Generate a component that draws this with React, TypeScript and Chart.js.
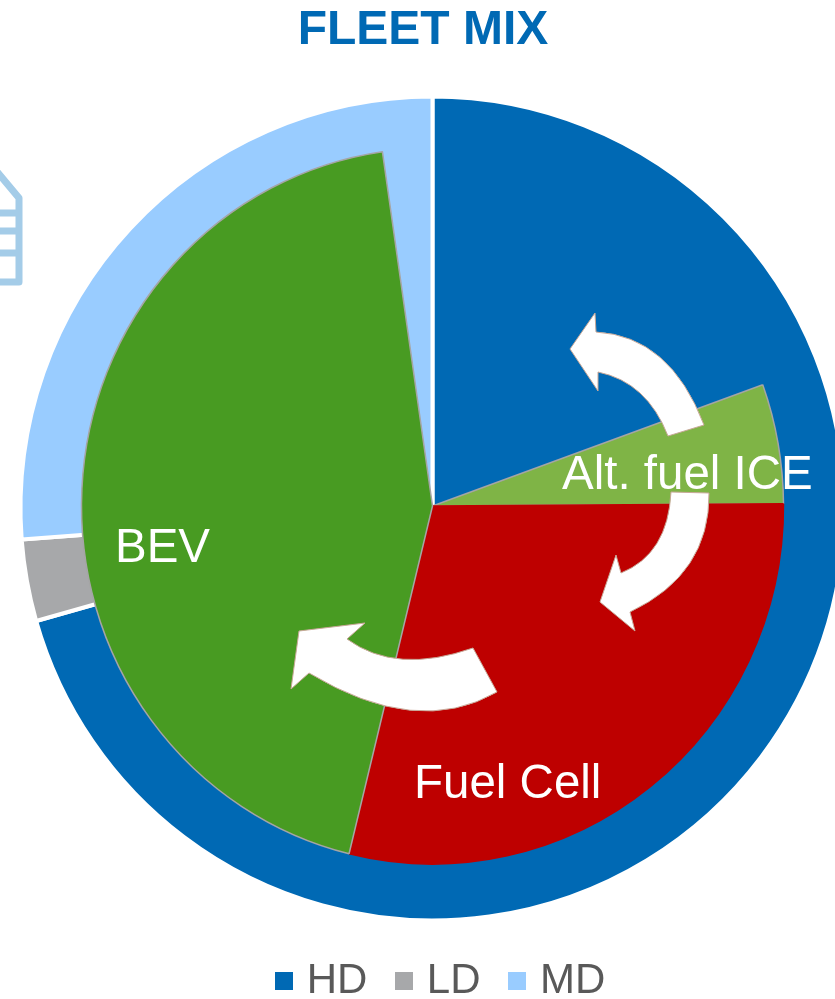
import React, { useEffect, useRef } from "react";
import { Chart, registerables } from "chart.js";

Chart.register(...registerables);

// Outer pie: share of fleet by vehicle class
const fleetClasses = ["HD", "LD", "MD"];
const fleetShares = [70.6, 3.2, 26.2];
const fleetColors = ["#0069B4", "#A7A8AA", "#99CCFF"];

// Inner pie: powertrain mix. The empty slices leave the outer pie visible.
const powertrainNames = ["", "Alt. fuel ICE", "Fuel Cell", "BEV", ""];
const powertrainShares = [19.5, 5.4, 28.92, 43.9, 2.28];
const powertrainColors = ["rgba(0,0,0,0)", "#7FB446", "#BE0000", "#489B22", "rgba(0,0,0,0)"];
const powertrainBorders = ["rgba(0,0,0,0)", "#A5A5A5", "#BE0000", "#A5A5A5", "rgba(0,0,0,0)"];

const FONT = "'Liberation Sans', Arial, sans-serif";
const PAGE_W = 880; // wider than the window: the pie is cropped at the right
const PAGE_H = 999;
const OUTER_R = 412;
const INNER_R = 351;
const RING_WEIGHT = 1000;

// Callouts drawn over the pie
const sliceLabels: [string, number, number][] = [
  [powertrainNames[1], 562, 489],
  [powertrainNames[2], 414, 798],
  [powertrainNames[3], 115, 562],
];
// [start, ...[cx, cy, x, y] quadratic or [x, y] line]
const arrows: number[][][] = [
  [[570, 349], [595, 313], [596, 332], [670, 336, 704, 425], [668, 436], [647, 382, 598, 372], [598, 391]],
  [[671, 492], [709, 493], [710, 574, 630, 612], [635, 631], [600, 602], [616, 555], [621, 573], [668, 554, 671, 492]],
  [[299, 631], [365, 623], [347, 639], [396, 675, 473, 648], [497, 692], [417, 738, 309, 673], [291, 689]],
];

function swatch(color: string) {
  const c = document.createElement("canvas");
  c.width = 18;
  c.height = 18;
  const g = c.getContext("2d")!;
  g.fillStyle = color;
  g.fillRect(0, 0, 18, 18);
  return c;
}

const overlay = {
  id: "fleetOverlay",
  afterLayout(chart: any) {
    const area = { left: 22.5, right: 842.5, top: 98.5, bottom: 918.5 };
    chart.chartArea = { ...area, width: area.right - area.left, height: area.bottom - area.top };
    chart.titleBlock.left = 0;
    chart.titleBlock.right = 846;
    chart.titleBlock.top = 0;
    const h = chart.legend.height;
    chart.legend.left = 0;
    chart.legend.right = 887;
    chart.legend.top = 925.6;
    chart.legend.bottom = 925.6 + h;
  },
  beforeDatasetDraw(chart: any, args: any) {
    if (args.index !== 1) return;
    const ctx = chart.ctx;
    ctx.save();
    ctx.translate(0, 506);
    ctx.scale(1, 1.02);
    ctx.translate(0, -508.5);
  },
  afterDatasetDraw(chart: any, args: any) {
    if (args.index === 1) chart.ctx.restore();
  },
  afterDraw(chart: any) {
    const ctx = chart.ctx;
    ctx.save();
    // building icon, cropped by the left edge
    ctx.strokeStyle = "#A4CCE8";
    ctx.lineWidth = 7;
    ctx.lineJoin = "round";
    ctx.beginPath();
    ctx.moveTo(-6, 168);
    ctx.lineTo(19, 198);
    ctx.lineTo(19, 282);
    ctx.lineTo(-6, 282);
    ctx.moveTo(-6, 213);
    ctx.lineTo(19, 213);
    ctx.moveTo(-6, 231);
    ctx.lineTo(19, 231);
    ctx.moveTo(-6, 253);
    ctx.lineTo(19, 253);
    ctx.stroke();

    // white arrows
    ctx.fillStyle = "#FFFFFF";
    ctx.strokeStyle = "#C8A898";
    ctx.lineWidth = 1;
    ctx.lineJoin = "miter";
    for (const a of arrows) {
      ctx.beginPath();
      a.forEach((p, i) => {
        if (i === 0) ctx.moveTo(p[0], p[1]);
        else if (p.length === 2) ctx.lineTo(p[0], p[1]);
        else ctx.quadraticCurveTo(p[0], p[1], p[2], p[3]);
      });
      ctx.closePath();
      ctx.fill();
      ctx.stroke();
    }

    // slice labels
    ctx.fillStyle = "#FFFFFF";
    ctx.font = `47.5px ${FONT}`;
    ctx.textAlign = "left";
    ctx.textBaseline = "alphabetic";
    for (const [t, x, y] of sliceLabels) ctx.fillText(t, x, y);
    ctx.restore();
  },
};

export default function App() {
  const ref = useRef<HTMLCanvasElement | null>(null);
  useEffect(() => {
    const chart = new Chart(ref.current!, {
      type: "pie",
      data: {
        labels: fleetClasses,
        datasets: [
          {
            label: "Fleet",
            data: fleetShares,
            backgroundColor: fleetColors,
            borderColor: "#FFFFFF",
            borderWidth: 4,
            weight: RING_WEIGHT,
            radius: OUTER_R,
            order: 1,
          },
          {
            label: "Powertrain",
            data: powertrainShares,
            backgroundColor: powertrainColors,
            borderColor: powertrainBorders,
            borderWidth: 1.5,
            weight: 1,
            radius: INNER_R * (RING_WEIGHT + 1),
            order: 0,
          },
        ] as any,
      },
      options: {
        animation: false,
        responsive: false,
        maintainAspectRatio: false,
        plugins: {
          title: {
            display: true,
            text: "FLEET MIX",
            color: "#0069B4",
            font: { family: FONT, size: 48, weight: "bold" },
            padding: { top: 2, bottom: 10 },
          },
          legend: {
            display: true,
            position: "bottom",
            labels: {
              color: "#595959",
              font: { family: FONT, size: 42 },
              boxWidth: 4,
              padding: 34.4,
              usePointStyle: true,
              generateLabels(c: any) {
                const base = (Chart as any).overrides.doughnut.plugins.legend.labels.generateLabels(c);
                return base.map((item: any, i: number) => ({ ...item, pointStyle: swatch(fleetColors[i]) }));
              },
            },
          },
          tooltip: { enabled: false },
        },
      } as any,
      plugins: [overlay],
    });
    return () => chart.destroy();
  }, []);
  return (
    <div style={{ position: "fixed", left: 0, top: 0, width: 835, height: PAGE_H, overflow: "hidden", background: "#fff" }}>
      <canvas ref={ref} width={PAGE_W} height={PAGE_H} style={{ display: "block" }} />
    </div>
  );
}
